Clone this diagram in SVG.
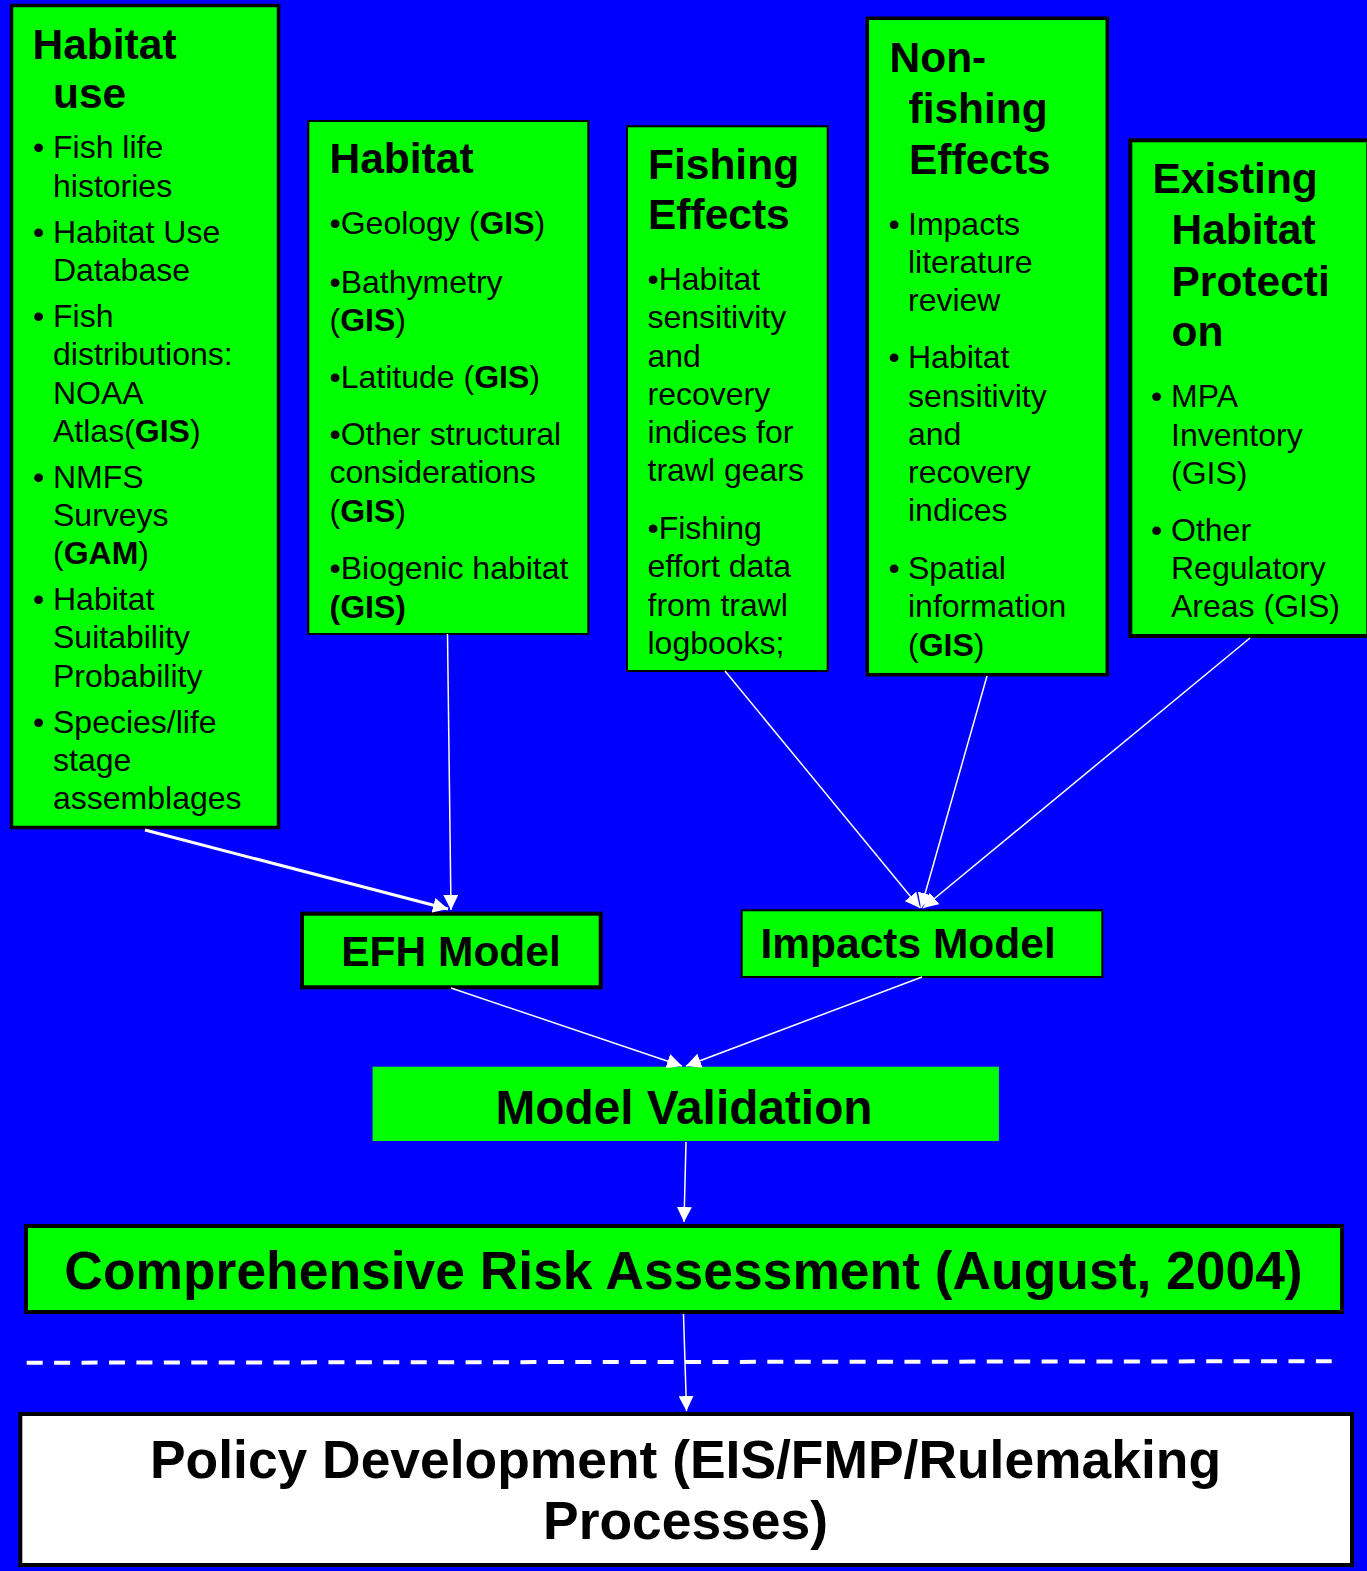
<svg xmlns="http://www.w3.org/2000/svg" width="1367" height="1571" viewBox="0 0 1367 1571">
<style>
.box{fill:#00FF00;stroke:#000}
.t{font-family:"Liberation Sans",Arial,sans-serif;font-weight:bold;font-size:42.5px;fill:#000}
.b{font-family:"Liberation Sans",Arial,sans-serif;font-size:32px;fill:#000}
.bd{font-weight:bold}
.c{stroke:#fff;fill:none}
</style>
<defs>
<marker id="ah" viewBox="0 0 15 15" markerWidth="15" markerHeight="15" refX="15" refY="7.5" orient="auto" markerUnits="userSpaceOnUse">
<path d="M0,0 L15,7.5 L0,15 z" fill="#fff"/>
</marker>
</defs>
<rect x="0" y="0" width="1367" height="1571" fill="#0000FF"/>

<g id="habitat-use">
<rect class="box" x="11.5" y="5.5" width="267" height="822" stroke-width="3.5"/>
<text class="t" x="32.5" y="59">Habitat</text>
<text class="t" x="53" y="108">use</text>
<g class="b">
<text x="33" y="158">•</text><text x="53" y="158">Fish life</text>
<text x="53" y="197">histories</text>
<text x="33" y="243">•</text><text x="53" y="243">Habitat Use</text>
<text x="53" y="281">Database</text>
<text x="33" y="327">•</text><text x="53" y="327">Fish</text>
<text x="53" y="365">distributions:</text>
<text x="53" y="404">NOAA</text>
<text x="53" y="442">Atlas(<tspan class="bd">GIS</tspan>)</text>
<text x="33" y="488">•</text><text x="53" y="488">NMFS</text>
<text x="53" y="526">Surveys</text>
<text x="53" y="564">(<tspan class="bd">GAM</tspan>)</text>
<text x="33" y="610">•</text><text x="53" y="610">Habitat</text>
<text x="53" y="648">Suitability</text>
<text x="53" y="687">Probability</text>
<text x="33" y="733">•</text><text x="53" y="733">Species/life</text>
<text x="53" y="771">stage</text>
<text x="53" y="809">assemblages</text>
</g>
</g>

<g id="habitat">
<rect class="box" x="308.3" y="121" width="280" height="513" stroke-width="2"/>
<text class="t" x="329.5" y="173">Habitat</text>
<g class="b">
<text x="329.5" y="234">•Geology (<tspan class="bd">GIS</tspan>)</text>
<text x="329.5" y="293">•Bathymetry</text>
<text x="329.5" y="331">(<tspan class="bd">GIS</tspan>)</text>
<text x="329.5" y="388">•Latitude (<tspan class="bd">GIS</tspan>)</text>
<text x="329.5" y="445">•Other structural</text>
<text x="329.5" y="483">considerations</text>
<text x="329.5" y="522">(<tspan class="bd">GIS</tspan>)</text>
<text x="329.5" y="579">•Biogenic habitat</text>
<text x="329.5" y="618" class="bd">(GIS)</text>
</g>
</g>

<g id="fishing-effects">
<rect class="box" x="627" y="126.3" width="200.7" height="544.7" stroke-width="2"/>
<text class="t" x="648" y="179">Fishing</text>
<text class="t" x="648" y="229">Effects</text>
<g class="b">
<text x="647.5" y="290">•Habitat</text>
<text x="647.5" y="328">sensitivity</text>
<text x="647.5" y="367">and</text>
<text x="647.5" y="405">recovery</text>
<text x="647.5" y="443">indices for</text>
<text x="647.5" y="481">trawl gears</text>
<text x="647.5" y="539">•Fishing</text>
<text x="647.5" y="577">effort data</text>
<text x="647.5" y="616">from trawl</text>
<text x="647.5" y="654">logbooks;</text>
</g>
</g>

<g id="non-fishing-effects">
<rect class="box" x="867.3" y="18.3" width="240" height="656.4" stroke-width="3.5"/>
<text class="t" x="889.5" y="72">Non-</text>
<text class="t" x="908.5" y="123">fishing</text>
<text class="t" x="909" y="174">Effects</text>
<g class="b">
<text x="888.5" y="235">•</text><text x="908" y="235">Impacts</text>
<text x="908" y="273">literature</text>
<text x="908" y="311">review</text>
<text x="888.5" y="368">•</text><text x="908" y="368">Habitat</text>
<text x="908" y="407">sensitivity</text>
<text x="908" y="445">and</text>
<text x="908" y="483">recovery</text>
<text x="908" y="521">indices</text>
<text x="888.5" y="579">•</text><text x="908" y="579">Spatial</text>
<text x="908" y="617">information</text>
<text x="908" y="656">(<tspan class="bd">GIS</tspan>)</text>
</g>
</g>

<g id="existing-habitat-protection">
<rect class="box" x="1130.3" y="140.3" width="238" height="495.7" stroke-width="4"/>
<text class="t" x="1152.5" y="193">Existing</text>
<text class="t" x="1171.5" y="244">Habitat</text>
<text class="t" x="1171.5" y="296">Protecti</text>
<text class="t" x="1171.5" y="346">on</text>
<g class="b">
<text x="1151" y="407">•</text><text x="1171" y="407">MPA</text>
<text x="1171" y="446">Inventory</text>
<text x="1171" y="484">(GIS)</text>
<text x="1151" y="541">•</text><text x="1171" y="541">Other</text>
<text x="1171" y="579">Regulatory</text>
<text x="1171" y="617">Areas (GIS)</text>
</g>
</g>

<g id="efh-model">
<rect class="box" x="302" y="913.7" width="298.7" height="73.6" stroke-width="4"/>
<text class="t" x="451" y="966" text-anchor="middle">EFH Model</text>
</g>

<g id="impacts-model">
<rect class="box" x="741.7" y="910.3" width="360.6" height="66.7" stroke-width="2"/>
<text class="t" x="760.5" y="958">Impacts Model</text>
</g>

<g id="model-validation">
<rect x="372.6" y="1066.7" width="626.3" height="74.3" fill="#00FF00"/>
<text class="t" x="684" y="1124" text-anchor="middle" style="font-size:47.8px">Model Validation</text>
</g>

<g id="comprehensive-risk-assessment">
<rect class="box" x="26" y="1226" width="1316" height="86" stroke-width="4"/>
<text class="t" x="683.5" y="1289" text-anchor="middle" style="font-size:53.4px">Comprehensive Risk Assessment (August, 2004)</text>
</g>

<g id="policy-development">
<rect x="20.3" y="1414" width="1331.7" height="151" fill="#fff" stroke="#000" stroke-width="4"/>
<text class="t" x="685.5" y="1478" text-anchor="middle" style="font-size:53.4px">Policy Development (EIS/FMP/Rulemaking</text>
<text class="t" x="685.5" y="1539" text-anchor="middle" style="font-size:53.4px">Processes)</text>
</g>

<g id="connectors">
<line class="c" x1="145" y1="830" x2="448" y2="909" stroke-width="3" marker-end="url(#ah)"/>
<line class="c" x1="447.5" y1="634" x2="451" y2="910" stroke-width="1.5" marker-end="url(#ah)"/>
<line class="c" x1="725" y1="671" x2="920" y2="908" stroke-width="1.5" marker-end="url(#ah)"/>
<line class="c" x1="987" y1="676" x2="921" y2="908" stroke-width="1.5" marker-end="url(#ah)"/>
<line class="c" x1="1250" y1="638" x2="923" y2="908" stroke-width="1.5" marker-end="url(#ah)"/>
<line class="c" x1="451" y1="988" x2="682" y2="1066" stroke-width="1.5" marker-end="url(#ah)"/>
<line class="c" x1="922" y1="977" x2="686" y2="1066" stroke-width="1.5" marker-end="url(#ah)"/>
<line class="c" x1="686" y1="1142" x2="684" y2="1222" stroke-width="1.5" marker-end="url(#ah)"/>
<line class="c" x1="683.5" y1="1314" x2="686.5" y2="1411" stroke-width="1.5" marker-end="url(#ah)"/>
<line class="c" x1="26.7" y1="1362.7" x2="1331.7" y2="1361.2" stroke-width="4" stroke-dasharray="16 11.43"/>
</g>
</svg>
